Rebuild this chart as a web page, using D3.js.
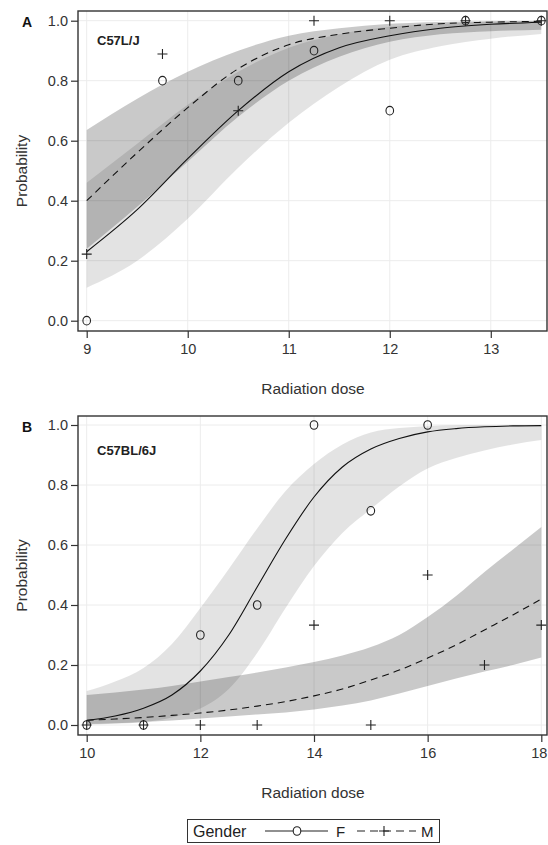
<!DOCTYPE html>
<html>
<head>
<meta charset="utf-8">
<script src="https://cdn.jsdelivr.net/npm/d3@7"></script>
<style>
  body { margin: 0; background: #fff; }
  svg text { font-family: "Liberation Sans", Arial, sans-serif; }
</style>
</head>
<body>
<div id="container"></div>
<script>
/* CONSTANTS AND GLOBALS */
const width = 548;
const height = 845;
const frameLeft = 78;
const frameRight = 547;

/* DATA */
// panel A - C57L/J observed proportions
const doseObsA = [9, 9.75, 10.5, 11.25, 12, 12.75, 13.5];
const femaleObsA = [0.0, 0.8, 0.8, 0.9, 0.7, 1.0, 1.0];
const maleObsA = [0.222, 0.889, 0.7, 1.0, 1.0, 1.0, 1.0];

// panel A - fitted curves and confidence bands
const doseFitA = [9, 9.5, 10, 10.5, 11, 11.5, 12, 12.5, 13, 13.5];
const femaleFitA = [0.23, 0.37, 0.54, 0.70, 0.83, 0.91, 0.95, 0.975, 0.988, 0.995];
const femaleLowA = [0.11, 0.20, 0.34, 0.51, 0.66, 0.78, 0.87, 0.915, 0.94, 0.956];
const femaleHighA = [0.46, 0.59, 0.72, 0.83, 0.91, 0.955, 0.98, 0.99, 0.997, 0.999];
const maleFitA = [0.40, 0.56, 0.71, 0.84, 0.92, 0.955, 0.975, 0.99, 0.995, 0.998];
const maleLowA = [0.24, 0.38, 0.53, 0.68, 0.80, 0.88, 0.93, 0.955, 0.965, 0.97];
const maleHighA = [0.636, 0.74, 0.83, 0.90, 0.95, 0.975, 0.99, 0.996, 0.998, 0.999];

// panel B - C57BL/6J observed proportions
const doseObsB = [10, 11, 12, 13, 14, 15, 16, 17, 18];
const femaleObsB = [0.0, 0.0, 0.3, 0.4, 1.0, 0.714, 1.0, null, null];
const maleObsB = [0.0, 0.0, 0.0, 0.0, 0.333, 0.0, 0.5, 0.2, 0.333];

// panel B - fitted curves and confidence bands
const doseFitB = [10, 10.5, 11, 11.5, 12, 12.5, 13, 13.5, 14, 14.5, 15, 15.5, 16, 16.5, 17, 17.5, 18];
const femaleFitB = [0.015, 0.03, 0.056, 0.10, 0.18, 0.30, 0.46, 0.62, 0.76, 0.86, 0.92, 0.955, 0.977, 0.988, 0.994, 0.997, 0.998];
const femaleLowB = [0.002, 0.004, 0.01, 0.025, 0.055, 0.12, 0.24, 0.39, 0.53, 0.64, 0.72, 0.795, 0.855, 0.89, 0.915, 0.935, 0.95];
const femaleHighB = [0.113, 0.145, 0.19, 0.27, 0.39, 0.52, 0.655, 0.78, 0.87, 0.935, 0.975, 0.99, 0.996, 0.999, 1, 1, 1];
const maleFitB = [0.016, 0.02, 0.025, 0.032, 0.04, 0.05, 0.063, 0.078, 0.097, 0.12, 0.15, 0.183, 0.223, 0.267, 0.317, 0.367, 0.42];
const maleLowB = [0.003, 0.006, 0.01, 0.015, 0.022, 0.028, 0.035, 0.042, 0.052, 0.065, 0.082, 0.105, 0.13, 0.155, 0.178, 0.2, 0.225];
const maleHighB = [0.10, 0.108, 0.118, 0.13, 0.145, 0.16, 0.175, 0.192, 0.21, 0.232, 0.26, 0.30, 0.36, 0.43, 0.51, 0.585, 0.66];

// ticks
const yTicks = [0, 0.2, 0.4, 0.6, 0.8, 1.0];
const xTicksA = [9, 10, 11, 12, 13];
const xTicksB = [10, 12, 14, 16, 18];

/* HTML ELEMENTS */
const svg = d3.select("#container")
  .append("svg")
  .attr("width", width)
  .attr("height", height);

function plusPath(size) {
  const h = size / 2;
  return `M${-h},0H${h}M0,${-h}V${h}`;
}

function drawPanel(p) {
  const xScale = d3.scaleLinear().domain(p.xDomain).range([86.7, 541.3]);
  const yScale = d3.scaleLinear().domain([0, 1]).range([p.y0, p.y0 - 300]);
  const g = svg.append("g");

  // grid
  g.selectAll(".gx").data(p.xTicks).join("line")
    .attr("x1", d => xScale(d)).attr("x2", d => xScale(d))
    .attr("y1", p.top).attr("y2", p.bottom)
    .attr("stroke", "#ececec").attr("stroke-width", 1);
  g.selectAll(".gy").data(yTicks).join("line")
    .attr("x1", frameLeft).attr("x2", frameRight)
    .attr("y1", d => yScale(d)).attr("y2", d => yScale(d))
    .attr("stroke", "#ececec").attr("stroke-width", 1);

  // confidence bands
  const band = (lo, hi) => d3.area()
    .x((d, i) => xScale(p.doseFit[i]))
    .y0((d, i) => yScale(lo[i]))
    .y1((d, i) => yScale(hi[i]))
    .curve(d3.curveMonotoneX);

  g.append("path")
    .attr("d", band(p.femaleLow, p.femaleHigh)(p.doseFit))
    .attr("fill", "#000").attr("fill-opacity", 0.11);
  g.append("path")
    .attr("d", band(p.maleLow, p.maleHigh)(p.doseFit))
    .attr("fill", "#000").attr("fill-opacity", 0.21);

  // fitted lines
  const fitLine = vals => d3.line()
    .x((d, i) => xScale(p.doseFit[i]))
    .y((d, i) => yScale(vals[i]))
    .curve(d3.curveMonotoneX);

  g.append("path")
    .attr("d", fitLine(p.femaleFit)(p.doseFit))
    .attr("fill", "none").attr("stroke", "#111").attr("stroke-width", 1.1);
  g.append("path")
    .attr("d", fitLine(p.maleFit)(p.doseFit))
    .attr("fill", "none").attr("stroke", "#111").attr("stroke-width", 1.1)
    .attr("stroke-dasharray", "7,5");

  // observed points
  const femalePts = p.doseObs.map((d, i) => ({ x: d, y: p.femaleObs[i] })).filter(d => d.y !== null);
  const malePts = p.doseObs.map((d, i) => ({ x: d, y: p.maleObs[i] })).filter(d => d.y !== null);

  g.selectAll(".circ").data(femalePts).join("ellipse")
    .attr("cx", d => xScale(d.x)).attr("cy", d => yScale(d.y))
    .attr("rx", 3.8).attr("ry", 4.3)
    .attr("fill", "none").attr("stroke", "#222").attr("stroke-width", 1.1);
  g.selectAll(".plus").data(malePts).join("path")
    .attr("transform", d => `translate(${xScale(d.x)},${yScale(d.y)})`)
    .attr("d", plusPath(10))
    .attr("stroke", "#222").attr("stroke-width", 1.1);

  // frame
  g.append("rect")
    .attr("x", frameLeft).attr("y", p.top)
    .attr("width", frameRight - frameLeft).attr("height", p.bottom - p.top)
    .attr("fill", "none").attr("stroke", "#333").attr("stroke-width", 1.4);

  // axes
  const yAxis = d3.axisLeft(yScale).tickValues(yTicks)
    .tickFormat(d3.format(".1f")).tickSize(7).tickSizeOuter(0).tickPadding(3);
  const xAxis = d3.axisBottom(xScale).tickValues(p.xTicks)
    .tickFormat(d3.format("d")).tickSize(7).tickSizeOuter(0).tickPadding(6);

  const ya = g.append("g").attr("transform", `translate(${frameLeft},0)`).call(yAxis);
  const xa = g.append("g").attr("transform", `translate(0,${p.bottom})`).call(xAxis);
  [ya, xa].forEach(a => {
    a.select(".domain").remove();
    a.selectAll("line").attr("stroke", "#333").attr("stroke-width", 1.2);
    a.selectAll("text").style("font-size", "14.5px").attr("fill", "#333")
      .style("font-family", "Liberation Sans, Arial, sans-serif");
  });
  // keep the last x label inside the page
  xa.selectAll(".tick text").filter(d => xScale(d) > 535).attr("dx", "-2.5");

  // axis titles
  g.append("text")
    .attr("x", 313).attr("y", p.bottom + 63)
    .attr("text-anchor", "middle")
    .style("font-size", "15.5px").attr("fill", "#333")
    .text("Radiation dose");
  g.append("text")
    .attr("transform", `translate(27,${(p.top + p.bottom) / 2}) rotate(-90)`)
    .attr("text-anchor", "middle")
    .style("font-size", "15.5px").attr("fill", "#333")
    .text("Probability");

  // panel letter and strain
  g.append("text")
    .attr("x", 22).attr("y", p.top + 16)
    .style("font-size", "14px").style("font-weight", "bold").attr("fill", "#111")
    .text(p.letter);
  g.append("text")
    .attr("x", 97).attr("y", p.top + 34 + p.strainShift)
    .style("font-size", "13px").style("font-weight", "bold").attr("fill", "#222")
    .text(p.strain);
}

drawPanel({
  letter: "A", strain: "C57L/J", strainShift: 0,
  top: 11, bottom: 331, y0: 320.7,
  xDomain: [9, 13.5], xTicks: xTicksA,
  doseObs: doseObsA, femaleObs: femaleObsA, maleObs: maleObsA,
  doseFit: doseFitA,
  femaleFit: femaleFitA, femaleLow: femaleLowA, femaleHigh: femaleHighA,
  maleFit: maleFitA, maleLow: maleLowA, maleHigh: maleHighA
});

drawPanel({
  letter: "B", strain: "C57BL/6J", strainShift: 5,
  top: 416, bottom: 735, y0: 725,
  xDomain: [10, 18], xTicks: xTicksB,
  doseObs: doseObsB, femaleObs: femaleObsB, maleObs: maleObsB,
  doseFit: doseFitB,
  femaleFit: femaleFitB, femaleLow: femaleLowB, femaleHigh: femaleHighB,
  maleFit: maleFitB, maleLow: maleLowB, maleHigh: maleHighB
});

// legend
const legend = svg.append("g");
legend.append("rect")
  .attr("x", 187.5).attr("y", 819.5).attr("width", 252).attr("height", 23)
  .attr("fill", "#fff").attr("stroke", "#333").attr("stroke-width", 1);
legend.append("text")
  .attr("x", 193).attr("y", 837)
  .style("font-size", "16px").attr("fill", "#222")
  .text("Gender");
legend.append("line")
  .attr("x1", 265).attr("x2", 328).attr("y1", 831).attr("y2", 831)
  .attr("stroke", "#222").attr("stroke-width", 1.1);
legend.append("ellipse")
  .attr("cx", 297).attr("cy", 831).attr("rx", 3.8).attr("ry", 4.3)
  .attr("fill", "#fff").attr("stroke", "#222").attr("stroke-width", 1.1);
legend.append("text")
  .attr("x", 336).attr("y", 837)
  .style("font-size", "15px").attr("fill", "#222")
  .text("F");
legend.append("line")
  .attr("x1", 357).attr("x2", 416).attr("y1", 831).attr("y2", 831)
  .attr("stroke", "#222").attr("stroke-width", 1.1)
  .attr("stroke-dasharray", "8,5");
legend.append("path")
  .attr("transform", "translate(384,831)")
  .attr("d", plusPath(10))
  .attr("stroke", "#222").attr("stroke-width", 1.1);
legend.append("text")
  .attr("x", 421).attr("y", 837)
  .style("font-size", "15px").attr("fill", "#222")
  .text("M");
</script>
</body>
</html>
